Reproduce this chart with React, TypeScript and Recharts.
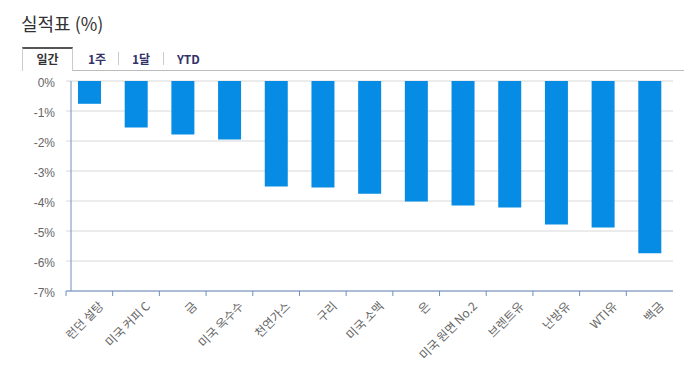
import React from "react";
import { BarChart, Bar, XAxis, YAxis, CartesianGrid } from "recharts";

const categories = [
  "런던 설탕",
  "미국 커피 C",
  "금",
  "미국 옥수수",
  "천연가스",
  "구리",
  "미국 소맥",
  "은",
  "미국 원면 No.2",
  "브렌트유",
  "난방유",
  "WTI유",
  "백금"
];
const dailyReturns = [-0.76, -1.55, -1.78, -1.95, -3.52, -3.55, -3.76, -4.02, -4.15, -4.22, -4.78, -4.88, -5.74];
const yTicks = [0, -1, -2, -3, -4, -5, -6, -7];
const tabs = ["일간", "1주", "1달", "YTD"];

const W = 684;
const H = 369;
const margin = { top: 81, right: 11, bottom: 18, left: 0 };
const yAxisWidth = 66;
const xAxisHeight = 60;
const plotW = W - margin.left - margin.right - yAxisWidth;
const plotH = H - margin.top - margin.bottom - xAxisHeight;
const band = plotW / categories.length;

const axisColor = "#6d8ebf";
const barColor = "#068ce4";
const labelColor = "#666";

const data = categories.map((name, i) => ({ name, value: dailyReturns[i] }));

function CategoryTick(props: any) {
  const { x, y, payload, index } = props;
  const left = x - band / 2;
  return (
    <g>
      {index === 0 && (
        <line x1={left + 5} x2={left + 5} y1={y - plotH} y2={y} stroke={axisColor} />
      )}
      <line x1={left} x2={left} y1={y} y2={y + 5} stroke={axisColor} />
      <text
        x={x + 15}
        y={y + 16}
        transform={`rotate(-45, ${x + 15}, ${y + 16})`}
        textAnchor="end"
        fontSize={12}
        fill={labelColor}
        fontFamily="'Noto Sans CJK KR', sans-serif"
      >
        {payload.value}
      </text>
    </g>
  );
}

export default function App() {
  return (
    <div
      style={{
        position: "absolute",
        left: 0,
        top: 0,
        width: W,
        height: H,
        background: "#fff",
        fontFamily: "'Noto Sans CJK KR', sans-serif"
      }}
    >
      <div
        style={{
          position: "absolute",
          left: 21,
          top: 11,
          fontSize: 18,
          color: "#333",
          lineHeight: "24px"
        }}
      >
        실적표 (%)
      </div>

      {/* tabs */}
      <div
        style={{
          position: "absolute",
          left: 73,
          right: 0,
          top: 70,
          borderTop: "1px solid #bbb"
        }}
      />
      <div
        style={{
          position: "absolute",
          left: 22,
          top: 47,
          width: 51,
          height: 24,
          borderTop: "2px solid #555",
          borderLeft: "1px solid #ccc",
          borderRight: "1px solid #ccc",
          boxSizing: "border-box",
          textAlign: "center",
          fontSize: 12,
          fontWeight: "bold",
          color: "#333",
          lineHeight: "20px"
        }}
      >
        {tabs[0]}
      </div>
      {tabs.slice(1).map((t, i) => (
        <div
          key={t}
          style={{
            position: "absolute",
            left: [88, 132, 177][i],
            top: 49,
            fontSize: 12,
            fontWeight: "bold",
            color: "#33336a",
            lineHeight: "20px"
          }}
        >
          {t}
        </div>
      ))}
      {[118, 163].map(x => (
        <div
          key={x}
          style={{
            position: "absolute",
            left: x,
            top: 52,
            height: 13,
            borderLeft: "1px solid #ccc"
          }}
        />
      ))}

      <div style={{ position: "absolute", left: 0, top: 0 }}>
        <BarChart width={W} height={H} data={data} margin={margin}>
          <CartesianGrid vertical={false} stroke="#d8d8d8" />
          <XAxis
            dataKey="name"
            interval={0}
            height={xAxisHeight}
            tickLine={false}
            tickSize={0}
            tickMargin={0}
            axisLine={{ stroke: axisColor }}
            tick={<CategoryTick />}
          />
          <YAxis
            width={yAxisWidth}
            domain={[-7, 0]}
            ticks={yTicks}
            interval={0}
            tickFormatter={(v: number) => `${v}%`}
            tickLine={false}
            tickMargin={5}
            axisLine={false}
            dy={2}
            tick={{ fill: labelColor, fontSize: 12, fontFamily: "'Liberation Sans', Arial, sans-serif" }}
          />
          <Bar dataKey="value" fill={barColor} barSize={23} isAnimationActive={false} />
        </BarChart>
      </div>
    </div>
  );
}
